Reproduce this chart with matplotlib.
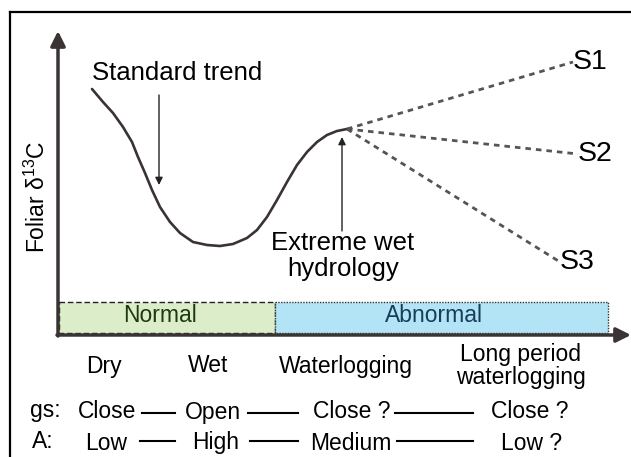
import matplotlib.pyplot as plt
from matplotlib.patches import Rectangle

plt.rcParams['font.family'] = ['Liberation Sans', 'DejaVu Sans']
plt.rcParams['mathtext.fontset'] = 'custom'
plt.rcParams['mathtext.rm'] = 'Liberation Sans'

# conceptual curve (pixel frame, y downwards)
trend_x = [92, 103, 113, 123, 132, 138, 145, 152, 160, 170, 180, 193, 207, 220,
           233, 247, 257, 267, 277, 287, 297, 307, 317, 327, 337, 347]
trend_y = [89, 102, 113, 127, 142, 157, 173, 190, 207, 222, 233, 242, 245, 246,
           244, 238, 230, 217, 200, 182, 165, 152, 142, 135, 131, 129]

# scenario end points
scen_names = ['S1', 'S2', 'S3']
scen_x = [573, 578, 560]
scen_y = [62, 154, 262]

hydro_labels = ['Dry', 'Wet', 'Waterlogging', 'Long period\nwaterlogging']
hydro_x = [104, 208, 346, 521]
gs_labels = ['Close', 'Open', 'Close ?', 'Close ?']
gs_x = [107, 213, 352, 530]
a_labels = ['Low', 'High', 'Medium', 'Low ?']
a_x = [106, 216, 351, 532]
gs_links = [(142, 175), (248, 298), (395, 473)]
a_links = [(140, 175), (250, 298), (397, 473)]

fig = plt.figure(figsize=(6.31, 4.57), dpi=100)
ax = fig.add_axes([0, 0, 1, 1])
ax.set_xlim(0, 631)
ax.set_ylim(457, 0)
ax.axis('off')

# outer frame
ax.plot([10, 10], [457, 12], color='black', lw=1.6)
ax.plot([10, 640], [12, 12], color='black', lw=1.6)

# state boxes
ax.add_patch(Rectangle((59, 302), 216, 31, facecolor='#dcedc9', edgecolor='#222222',
                       lw=1, ls=(0, (4, 2)), zorder=2))
ax.add_patch(Rectangle((275, 302), 333, 31, facecolor='#b3e4f5', edgecolor='#333333',
                       lw=1, ls=(0, (1, 1)), zorder=2))
ax.text(160, 315, 'Normal', ha='center', va='center', fontsize=16.5, color='#1f3a12', zorder=3)
ax.text(434, 315, 'Abnormal', ha='center', va='center', fontsize=16.5, color='#173d58', zorder=3)

# axes arrows
axis_col = '#3a3434'
ax.annotate('', xy=(58, 31), xytext=(58, 336),
            arrowprops=dict(arrowstyle='-|>', lw=2.5, color=axis_col, mutation_scale=22,
                            shrinkA=0, shrinkB=0), zorder=4)
ax.annotate('', xy=(631, 335), xytext=(57, 335),
            arrowprops=dict(arrowstyle='-|>', lw=2.5, color=axis_col, mutation_scale=22,
                            shrinkA=0, shrinkB=0), zorder=4)
ax.text(37, 197, r'Foliar δ$^{13}$C', rotation=90, ha='center', va='center', fontsize=16.5)

# trend and scenarios
ax.plot(trend_x, trend_y, color='#3b3333', lw=1.9, solid_capstyle='round',
        solid_joinstyle='round', zorder=3)
for name, sx, sy in zip(scen_names, scen_x, scen_y):
    ax.plot([trend_x[-1], sx], [trend_y[-1], sy], color='#555555', lw=2,
            ls=(0, (2, 1.8)), zorder=3)
    ax.text(sx + 17, sy, name, ha='center', va='center', fontsize=20.5)

# annotations
ax.text(177, 80, 'Standard trend', ha='center', va='baseline', fontsize=18.5)
ax.annotate('', xy=(159, 185), xytext=(159, 95),
            arrowprops=dict(arrowstyle='-|>', lw=1, color='#222222', mutation_scale=11,
                            shrinkA=0, shrinkB=0))
ax.text(343, 256, 'Extreme wet\nhydrology', ha='center', va='center', fontsize=18.5,
        linespacing=1.15)
ax.annotate('', xy=(342, 137), xytext=(342, 231),
            arrowprops=dict(arrowstyle='-|>', lw=1, color='#222222', mutation_scale=11,
                            shrinkA=0, shrinkB=0))

# hydrology categories and physiology rows
for lab, x in zip(hydro_labels, hydro_x):
    ax.text(x, 366, lab, ha='center', va='center', fontsize=16.5, linespacing=1.05)

ax.text(45, 411, 'gs:', ha='center', va='center', fontsize=16.5)
ax.text(43, 442, 'A:', ha='center', va='center', fontsize=16.5)
for lab, x in zip(gs_labels, gs_x):
    ax.text(x, 412, lab, ha='center', va='center', fontsize=16.5)
for lab, x in zip(a_labels, a_x):
    ax.text(x, 443, lab, ha='center', va='center', fontsize=16.5)
for x0, x1 in gs_links:
    ax.plot([x0, x1], [413, 413], color='black', lw=1.5)
for x0, x1 in a_links:
    ax.plot([x0, x1], [441, 441], color='black', lw=1.5)

fig.savefig('out.png', dpi=100)
